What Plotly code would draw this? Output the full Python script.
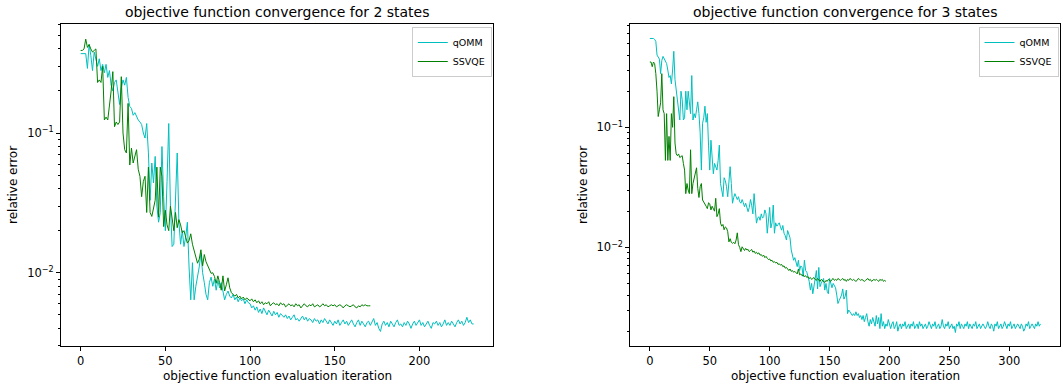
import math
import plotly.graph_objects as go

# ---------------- data ----------------
left_qomm = [
    0.37, 0.37, 0.37, 0.37, 0.29, 0.43, 0.36, 0.28, 0.38, 0.33,
    0.30, 0.34, 0.28, 0.31, 0.27, 0.31, 0.25, 0.28, 0.22, 0.20,
    0.23, 0.24, 0.19, 0.16, 0.21, 0.24, 0.22, 0.25, 0.18, 0.155,
    0.15, 0.134, 0.14, 0.13, 0.124, 0.12, 0.115, 0.10, 0.092, 0.117,
    0.072, 0.033, 0.061, 0.044, 0.068, 0.030, 0.023, 0.027, 0.080, 0.035,
    0.020, 0.045, 0.117, 0.030, 0.0154, 0.016, 0.030, 0.072, 0.023, 0.016,
    0.020, 0.0154, 0.018, 0.023, 0.0110, 0.0064, 0.0118, 0.0064, 0.0080, 0.0093,
    0.0110, 0.0138, 0.0100, 0.0085, 0.0070, 0.0064, 0.0085, 0.0093, 0.0080, 0.0090,
    0.0075, 0.0088, 0.0078, 0.0085, 0.0072, 0.0064, 0.0070, 0.0074, 0.0068, 0.0066,
    0.0070, 0.0064, 0.0067, 0.0062, 0.0066, 0.0063, 0.0065, 0.0060, 0.0064, 0.0061,
    0.0060, 0.0056, 0.0058, 0.0054, 0.0057, 0.0052, 0.0055, 0.0051, 0.0056, 0.0053,
    0.0050, 0.0054, 0.0051, 0.0049, 0.0053, 0.0050, 0.0052, 0.0048, 0.0051, 0.0049,
    0.0048, 0.0050, 0.0047, 0.0049, 0.0046, 0.0048, 0.0050, 0.0046, 0.0047, 0.0045,
    0.0047, 0.0049, 0.0046, 0.0048, 0.0045, 0.0047, 0.0046, 0.0044, 0.0047, 0.0045,
    0.0046, 0.0043, 0.0046, 0.0044, 0.0047, 0.0045, 0.0043, 0.0046, 0.0044, 0.0042,
    0.0045, 0.0043, 0.0046, 0.0042, 0.0044, 0.0046, 0.0043, 0.0045, 0.0042, 0.0044,
    0.0046, 0.0043, 0.0041, 0.0044, 0.0046, 0.0042, 0.0045, 0.0043, 0.0041, 0.0044,
    0.0045, 0.0042, 0.0044, 0.0047, 0.0042, 0.0044, 0.0040, 0.0038, 0.0043, 0.0045,
    0.0042, 0.0044, 0.0041, 0.0045, 0.0043, 0.0041, 0.0044, 0.0046, 0.0042, 0.0043,
    0.0041, 0.0044, 0.0042, 0.0045, 0.0043, 0.0040, 0.0043, 0.0045, 0.0042, 0.0044,
    0.0046, 0.0042, 0.0044, 0.0041, 0.0043, 0.0045, 0.0042, 0.0040, 0.0044, 0.0043,
    0.0045, 0.0042, 0.0044, 0.0041, 0.0043, 0.0046, 0.0042, 0.0044, 0.0042, 0.0045,
    0.0043, 0.0041, 0.0044, 0.0046, 0.0043, 0.0045, 0.0042, 0.0044, 0.0048, 0.0044,
    0.0046, 0.0043, 0.0043,
]

left_ssvqe = [
    0.39, 0.39, 0.40, 0.47, 0.41, 0.43, 0.40, 0.38, 0.39, 0.40,
    0.23, 0.24, 0.23, 0.30, 0.124, 0.13, 0.124, 0.155, 0.20, 0.275,
    0.111, 0.12, 0.115, 0.12, 0.253, 0.10, 0.076, 0.072, 0.163, 0.059,
    0.078, 0.061, 0.070, 0.076, 0.055, 0.049, 0.035, 0.045, 0.049, 0.027,
    0.057, 0.027, 0.0253, 0.030, 0.033, 0.057, 0.025, 0.057, 0.049, 0.0214,
    0.028, 0.022, 0.020, 0.030, 0.024, 0.020, 0.027, 0.021, 0.024, 0.022,
    0.0193, 0.020, 0.018, 0.0163, 0.017, 0.019, 0.016, 0.0146, 0.013, 0.0117,
    0.0125, 0.0146, 0.0112, 0.0135, 0.012, 0.0112, 0.0105, 0.0099, 0.010, 0.0094,
    0.0084, 0.0095, 0.0085, 0.0075, 0.0095, 0.0074, 0.0082, 0.0092, 0.0078, 0.0072,
    0.0070, 0.0068, 0.0070, 0.0066, 0.0068, 0.0065, 0.0067, 0.0064, 0.0066, 0.0064,
    0.0063, 0.0065, 0.0062, 0.0064, 0.0061, 0.0063, 0.0060, 0.0062, 0.0059, 0.0061,
    0.0060, 0.0062, 0.0058, 0.0060, 0.0061, 0.0059, 0.0060, 0.0058, 0.0061, 0.0059,
    0.0060, 0.0057, 0.0059, 0.0060, 0.0058, 0.0059, 0.0057, 0.0060, 0.0058, 0.0059,
    0.0056, 0.0058, 0.0060, 0.0058, 0.0057, 0.0059, 0.0058, 0.0060, 0.0057, 0.0058,
    0.0059, 0.0057, 0.0058, 0.0060, 0.0058, 0.0059, 0.0057, 0.0058, 0.0059, 0.0058,
    0.0059, 0.0057, 0.0058, 0.0059, 0.0058, 0.0056, 0.0058, 0.0059, 0.0058, 0.0057,
    0.0058, 0.0059, 0.0057, 0.0056, 0.0058, 0.0057, 0.0059, 0.0058, 0.0059, 0.0058,
    0.0058, 0.0058,
]

right_qomm = [
    0.55, 0.55, 0.55, 0.55, 0.54, 0.52, 0.40, 0.38, 0.37, 0.28,
    0.36, 0.39, 0.37, 0.35, 0.34, 0.30, 0.26, 0.27, 0.23, 0.30,
    0.43, 0.25, 0.20, 0.16, 0.14, 0.115, 0.20, 0.17, 0.115, 0.12,
    0.20, 0.14, 0.20, 0.15, 0.13, 0.27, 0.115, 0.13, 0.12, 0.14,
    0.163, 0.13, 0.090, 0.044, 0.108, 0.12, 0.15, 0.11, 0.13, 0.07,
    0.044, 0.078, 0.055, 0.041, 0.05, 0.046, 0.044, 0.053, 0.071, 0.034,
    0.030, 0.0264, 0.038, 0.036, 0.032, 0.0264, 0.035, 0.047, 0.034, 0.0233,
    0.026, 0.028, 0.0264, 0.025, 0.0264, 0.024, 0.0233, 0.025, 0.0235, 0.0218,
    0.0233, 0.021, 0.0198, 0.0215, 0.025, 0.0225, 0.019, 0.028, 0.020, 0.0159,
    0.0175, 0.018, 0.0168, 0.019, 0.0175, 0.018, 0.0205, 0.019, 0.0131, 0.017,
    0.0215, 0.0145, 0.0160, 0.0225, 0.0131, 0.016, 0.0150, 0.0155, 0.016, 0.0148,
    0.0139, 0.0152, 0.0131, 0.0125, 0.0115, 0.0138, 0.0125, 0.0120, 0.0095, 0.0085,
    0.0078, 0.0082, 0.0075, 0.0069, 0.0078, 0.0064, 0.0070, 0.0068, 0.0057, 0.0078,
    0.0064, 0.0062, 0.0057, 0.0052, 0.0044, 0.0050, 0.0041, 0.0050, 0.0055, 0.0064,
    0.0045, 0.0068, 0.0047, 0.0050, 0.0052, 0.0055, 0.0044, 0.0050, 0.0043, 0.0041,
    0.0055, 0.0049, 0.0046, 0.0050, 0.0048, 0.0046, 0.0040, 0.0034, 0.0036, 0.0038,
    0.0040, 0.0045, 0.0037, 0.0039, 0.0044, 0.0028, 0.0030, 0.0029, 0.0028, 0.0027,
    0.0028, 0.0027, 0.0029, 0.0027, 0.0028, 0.0026, 0.0027, 0.0025, 0.0027, 0.0024,
    0.0026, 0.0028, 0.0024, 0.0022, 0.0025, 0.0023, 0.0026, 0.0024, 0.0022, 0.0027,
    0.0023, 0.0026, 0.0021, 0.0028, 0.0022, 0.0024, 0.0021, 0.0023, 0.0022, 0.0025,
    0.0022, 0.0021, 0.0023, 0.0024, 0.0021, 0.0022, 0.0024, 0.0020, 0.0022, 0.0023,
    0.0021, 0.0023, 0.0022, 0.0024, 0.0021, 0.0022, 0.0023, 0.0021, 0.0023, 0.0022,
    0.0024, 0.0021, 0.0022, 0.0023, 0.0021, 0.0024, 0.0022, 0.0023, 0.0021, 0.0022,
    0.0023, 0.0021, 0.0022, 0.0024, 0.0022, 0.0021, 0.0023, 0.0022, 0.0024, 0.0021,
    0.0022, 0.0023, 0.0021, 0.0022, 0.0025, 0.0022, 0.0021, 0.0023, 0.0022, 0.0024,
    0.0021, 0.0022, 0.0023, 0.0021, 0.0022, 0.00195, 0.0023, 0.0022, 0.0024, 0.0021,
    0.0023, 0.0022, 0.0021, 0.0023, 0.0022, 0.0024, 0.0021, 0.0023, 0.0022, 0.0021,
    0.0023, 0.0022, 0.0024, 0.0021, 0.0022, 0.0023, 0.0021, 0.0022, 0.0023, 0.0022,
    0.0021, 0.0022, 0.0024, 0.0022, 0.0021, 0.0023, 0.0022, 0.0020, 0.0023, 0.0022,
    0.0024, 0.0021, 0.0022, 0.0023, 0.0021, 0.0022, 0.0024, 0.0022, 0.0021, 0.0023,
    0.0022, 0.0024, 0.0021, 0.0022, 0.0023, 0.0021, 0.0022, 0.0023, 0.0022, 0.0021,
    0.0023, 0.0022, 0.0020, 0.0021, 0.0023, 0.0022, 0.0024, 0.0021, 0.0022, 0.0023,
    0.0022, 0.0021, 0.0023, 0.0022, 0.0024, 0.0022, 0.0023,
]

right_ssvqe = [
    0.35, 0.35, 0.32, 0.35, 0.34, 0.28, 0.20, 0.123, 0.14, 0.16,
    0.28, 0.14, 0.13, 0.053, 0.13, 0.053, 0.084, 0.053, 0.13, 0.10,
    0.18, 0.074, 0.060, 0.058, 0.060, 0.056, 0.057, 0.058, 0.050, 0.044,
    0.028, 0.034, 0.030, 0.028, 0.065, 0.028, 0.034, 0.038, 0.042, 0.046,
    0.031, 0.026, 0.032, 0.034, 0.0248, 0.024, 0.023, 0.022, 0.021, 0.0235,
    0.023, 0.0205, 0.022, 0.021, 0.020, 0.0256, 0.018, 0.019, 0.021, 0.0159,
    0.0150, 0.0155, 0.0140, 0.0148, 0.0145, 0.0135, 0.0111, 0.0118, 0.0110, 0.0108,
    0.0110, 0.0107, 0.0115, 0.0132, 0.0105, 0.0100, 0.0092, 0.0101, 0.0096, 0.0094,
    0.0098, 0.0095, 0.0096, 0.0092, 0.0094, 0.0096, 0.0091, 0.0093, 0.0089, 0.0091,
    0.0088, 0.0090, 0.0086, 0.0087, 0.0084, 0.0086, 0.0082, 0.0084, 0.0081, 0.0079,
    0.0080, 0.0077, 0.0078, 0.0075, 0.0076, 0.0074, 0.0075, 0.0072, 0.0073, 0.0071,
    0.0072, 0.0069, 0.0070, 0.0067, 0.0068, 0.0066, 0.0064, 0.0066, 0.0063, 0.0064,
    0.0062, 0.0063, 0.0061, 0.0060, 0.0066, 0.0059, 0.0060, 0.0058, 0.0059, 0.0057,
    0.0058, 0.0056, 0.0057, 0.0055, 0.0056, 0.0054, 0.0055, 0.0056, 0.0054, 0.0053,
    0.0055, 0.0053, 0.0052, 0.0054, 0.0053, 0.0052, 0.0051, 0.0053, 0.0052, 0.0054,
    0.0053, 0.0052, 0.0054, 0.0055, 0.0053, 0.0054, 0.0053, 0.0055, 0.0054, 0.0053,
    0.0054, 0.0055, 0.0053, 0.0054, 0.0052, 0.0054, 0.0053, 0.0055, 0.0054, 0.0053,
    0.0054, 0.0053, 0.0052, 0.0053, 0.0055, 0.0054, 0.0053, 0.0054, 0.0053, 0.0052,
    0.0053, 0.0054, 0.0055, 0.0053, 0.0054, 0.0052, 0.0053, 0.0054, 0.0053, 0.0054,
    0.0053, 0.0052, 0.0054, 0.0053, 0.0054, 0.0052, 0.0053, 0.0052,
]

series_names = ["qOMM", "SSVQE"]
titles = ["objective function convergence for 2 states",
          "objective function convergence for 3 states"]
x_label = "objective function evaluation iteration"
y_label = "relative error"
x_ticks_left = [0, 50, 100, 150, 200]
x_ticks_right = [0, 50, 100, 150, 200, 250, 300]
y_major = [0.01, 0.1]
y_major_text = ["10<sup>\u22122</sup>", "10<sup>\u22121</sup>"]

# ---------------- styling / layout ----------------
W, H = 1063, 387
FONT = "DejaVu Sans"
C_Q = "rgb(0,191,191)"
C_S = "rgb(0,128,0)"

# axes boxes in pixels (left, right, top, bottom)
box_l = (61, 493.3, 24, 346)
box_r = (630.3, 1060, 24, 346)
ylim_l = (0.00299, 0.603)
ylim_r = (0.001505, 0.726)


def minor_vals(lo, hi):
    vals = []
    for e in range(-4, 1):
        for m in range(2, 10):
            v = m * 10 ** e
            if lo <= v <= hi:
                vals.append(v)
    return vals


def xdom(b):
    return [b[0] / W, b[1] / W]


def ydom(b):
    return [1 - b[3] / H, 1 - b[2] / H]


fig = go.Figure()

for ys, name, col, ax, leg in [
    (left_qomm, series_names[0], C_Q, ("x", "y"), "legend"),
    (left_ssvqe, series_names[1], C_S, ("x", "y"), "legend"),
    (right_qomm, series_names[0], C_Q, ("x2", "y2"), "legend2"),
    (right_ssvqe, series_names[1], C_S, ("x2", "y2"), "legend2"),
]:
    fig.add_trace(go.Scatter(
        x=list(range(len(ys))), y=ys, mode="lines", name=name,
        line=dict(color=col, width=1), xaxis=ax[0], yaxis=ax[1],
        legend=leg, hoverinfo="skip",
    ))

common_axis = dict(
    showline=True, linecolor="black", linewidth=1, mirror=True,
    ticks="outside", ticklen=4, tickwidth=1, tickcolor="black",
    showgrid=False, zeroline=False,
    tickfont=dict(family=FONT, size=11.5, color="black"),
)

n_left = len(left_qomm) - 1
n_right = len(right_qomm) - 1

legend_style = dict(
    xanchor="right", y=1 - 27 / H, yanchor="top",
    bgcolor="white", bordercolor="#cccccc", borderwidth=1,
    font=dict(family=FONT, size=9.5, color="black"),
    itemwidth=30, tracegroupgap=0,
)

fig.update_layout(
    width=W, height=H, autosize=False,
    margin=dict(l=0, r=0, t=0, b=0),
    paper_bgcolor="white", plot_bgcolor="white",
    font=dict(family=FONT, color="black"),
    xaxis=dict(domain=xdom(box_l), anchor="y",
               range=[-0.05 * n_left, 1.05 * n_left],
               tickvals=x_ticks_left, **common_axis),
    yaxis=dict(domain=ydom(box_l), anchor="x", type="log",
               range=[math.log10(ylim_l[0]), math.log10(ylim_l[1])],
               tickvals=y_major, ticktext=y_major_text,
               minor=dict(tickvals=minor_vals(*ylim_l), ticks="outside",
                          ticklen=2, tickwidth=1, tickcolor="black"),
               **common_axis),
    xaxis2=dict(domain=xdom(box_r), anchor="y2",
                range=[-0.05 * n_right, 1.05 * n_right],
                tickvals=x_ticks_right, **common_axis),
    yaxis2=dict(domain=ydom(box_r), anchor="x2", type="log",
                range=[math.log10(ylim_r[0]), math.log10(ylim_r[1])],
                tickvals=y_major, ticktext=y_major_text,
                minor=dict(tickvals=minor_vals(*ylim_r), ticks="outside",
                           ticklen=2, tickwidth=1, tickcolor="black"),
                **common_axis),
    legend=dict(x=(box_l[1] - 1.5) / W, **legend_style),
    legend2=dict(x=(box_r[1] - 1.5) / W, **legend_style),
    showlegend=True,
)

annotations = []
for b, t in [(box_l, titles[0]), (box_r, titles[1])]:
    cx = (b[0] + b[1]) / 2 / W
    annotations.append(dict(text=t, x=cx, y=1 - 12 / H, xref="paper", yref="paper",
                            xanchor="center", yanchor="middle", showarrow=False,
                            font=dict(family=FONT, size=14, color="black")))
    annotations.append(dict(text=x_label, x=cx, y=1 - 376 / H, xref="paper", yref="paper",
                            xanchor="center", yanchor="middle", showarrow=False,
                            font=dict(family=FONT, size=12, color="black")))
annotations.append(dict(text=y_label, x=13 / W, y=1 - 185 / H, xref="paper", yref="paper",
                        xanchor="center", yanchor="middle", showarrow=False, textangle=-90,
                        font=dict(family=FONT, size=12, color="black")))
annotations.append(dict(text=y_label, x=583 / W, y=1 - 185 / H, xref="paper", yref="paper",
                        xanchor="center", yanchor="middle", showarrow=False, textangle=-90,
                        font=dict(family=FONT, size=12, color="black")))
fig.update_layout(annotations=annotations)

fig.write_html("out.html", config={"displayModeBar": False})
